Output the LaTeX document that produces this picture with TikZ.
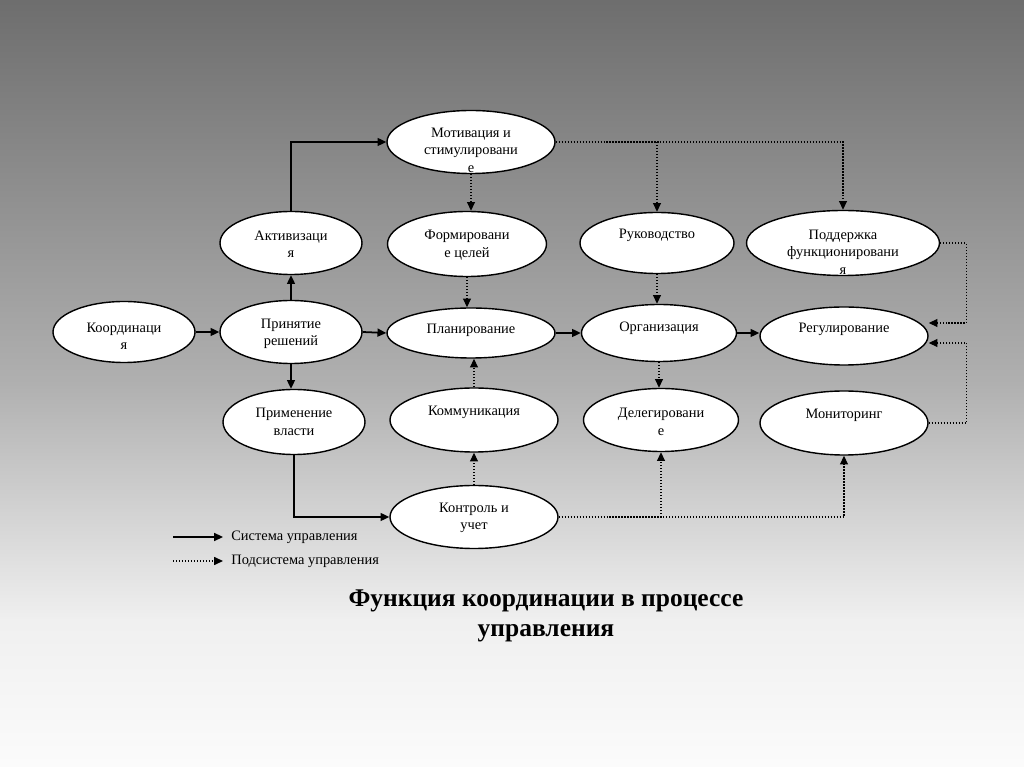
\documentclass[tikz,border=0pt]{standalone}
\usepackage{fontspec}
\setmainfont{Liberation Serif}
\usetikzlibrary{arrows.meta,positioning,shapes.geometric}
\definecolor{bgtop}{gray}{0.43}
\definecolor{bgmid}{gray}{0.69}
\definecolor{bglow}{gray}{0.94}
\definecolor{bgbot}{gray}{0.985}

\begin{document}
\begin{tikzpicture}[
    ell/.style={ellipse, draw, fill=white, line width=0.8pt, inner sep=0pt, minimum width=#1, minimum height=1.26cm},
    ell/.default=3.36cm,
    lbl/.style={font=\fontsize{8.2}{9.9}\selectfont, align=center, inner sep=0pt},
    sys/.style={-{Triangle[length=5pt,width=4.5pt]}, line width=1pt},
    sub/.style={-{Triangle[length=5pt,width=4.5pt]}, line width=0.7pt, densely dotted}
]
\useasboundingbox (0,0) rectangle (20.48,-15.34);
% background
\shade[top color=bgtop, bottom color=bgmid] (0,0) rectangle (20.48,-7.68);
\shade[top color=bgmid, bottom color=bglow] (0,-7.66) rectangle (20.48,-12.42);
\shade[top color=bglow, bottom color=bgbot] (0,-12.40) rectangle (20.48,-15.34);

% ellipses
\node[ell] (motiv) at (9.42,-2.84) {};
\node[ell=2.84cm] (aktiv) at (5.82,-4.86) {};
\node[ell=3.18cm, minimum height=1.30cm] (form) at (9.34,-4.88) {};
\node[ell=3.08cm, minimum height=1.22cm] (ruk) at (13.14,-4.86) {};
\node[ell=3.86cm, minimum height=1.30cm] (podd) at (16.86,-4.86) {};
\node[ell=2.84cm, minimum height=1.22cm] (koord) at (2.48,-6.64) {};
\node[ell=2.84cm] (prin) at (5.82,-6.64) {};
\node[ell, minimum height=1.0cm] (plan) at (9.42,-6.66) {};
\node[ell=3.10cm, minimum height=1.14cm] (org) at (13.18,-6.66) {};
\node[ell, minimum height=1.16cm] (reg) at (16.88,-6.72) {};
\node[ell=2.84cm, minimum height=1.30cm] (prim) at (5.88,-8.44) {};
\node[ell, minimum height=1.28cm] (komm) at (9.48,-8.40) {};
\node[ell=3.10cm] (deleg) at (13.22,-8.40) {};
\node[ell, minimum height=1.28cm] (monit) at (16.88,-8.46) {};
\node[ell] (kontr) at (9.48,-10.34) {};

% texts
\node[lbl] (motiv-t) at (9.42,-3.00) {Мотивация и\\стимулировани\\е};
\node[lbl] (aktiv-t) at (5.82,-4.88) {Активизаци\\я};
\node[lbl] (form-t) at (9.34,-4.90) {Формировани\\е целей};
\node[lbl] (ruk-t) at (13.14,-4.70) {Руководство};
\node[lbl] (podd-t) at (16.86,-5.04) {Поддержка\\функционировани\\я};
\node[lbl] (koord-t) at (2.48,-6.72) {Координаци\\я};
\node[lbl] (prin-t) at (5.82,-6.68) {Принятие\\решений};
\node[lbl] (plan-t) at (9.42,-6.60) {Планирование};
\node[lbl] (org-t) at (13.18,-6.56) {Организация};
\node[lbl] (reg-t) at (16.88,-6.58) {Регулирование};
\node[lbl] (prim-t) at (5.88,-8.44) {Применение\\власти};
\node[lbl] (komm-t) at (9.48,-8.24) {Коммуникация};
\node[lbl] (deleg-t) at (13.22,-8.44) {Делегировани\\е};
\node[lbl] (monit-t) at (16.88,-8.30) {Мониторинг};
\node[lbl] (kontr-t) at (9.48,-10.36) {Контроль и\\учет};

% system links
\draw[sys] (koord.east) -- (prin.west);
\draw[sys] (prin.east) -- (plan.west);
\draw[sys] (plan.east) -- (org.west);
\draw[sys] (org.east) -- (org.east -| reg.west);
\draw[sys] (prin.north) -- (aktiv.south);
\draw[sys] (prin.south) -- (prin.south |- prim.north);
\draw[sys] (aktiv.north) |- (motiv.west);
\draw[sys] (prim.south) |- (kontr.west);

% subsystem links
\draw[sub] (motiv.south) -- (motiv.south |- form.north);
\draw[sub] (motiv.east) -| (podd.north);
\draw[sub] (motiv.east -| ruk.north) -- (ruk.north);
\draw[sub] (form.south) -- (form.south |- plan.north);
\draw[sub] (ruk.south) -- (ruk.south |- org.north);
\draw[sub] (org.south) -- (org.south |- deleg.north);
\draw[sub] (komm.north) -- (komm.north |- plan.south);
\draw[sub] (kontr.north) -- (komm.south);
\draw[sub] (kontr.east) -| (monit.south);
\draw[sub] (kontr.east -| deleg.south) -- (deleg.south);
\draw[sub] (podd.east) -- ++(0.52,0) |- ([yshift=0.26cm]reg.east);
\draw[sub] (monit.east) -- ++(0.76,0) |- ([yshift=-0.14cm]reg.east);

% legend
\coordinate (leg-s) at (3.46,-10.74);
\coordinate (leg-p) at (3.46,-11.22);
\node[lbl, anchor=west, inner xsep=0.16cm] (leg-sys) at (4.46,-10.74) {Система управления};
\node[lbl, anchor=west, inner xsep=0.16cm] (leg-sub) at (4.46,-11.22) {Подсистема управления};
\draw[sys] (leg-s) -- (leg-sys.west);
\draw[sub] (leg-p) -- (leg-sub.west);

\node[font=\bfseries\fontsize{14.5}{17}\selectfont, align=center, inner sep=0pt] (title) at (10.92,-12.32) {Функция координации в процессе\\управления};
\end{tikzpicture}
\end{document}
